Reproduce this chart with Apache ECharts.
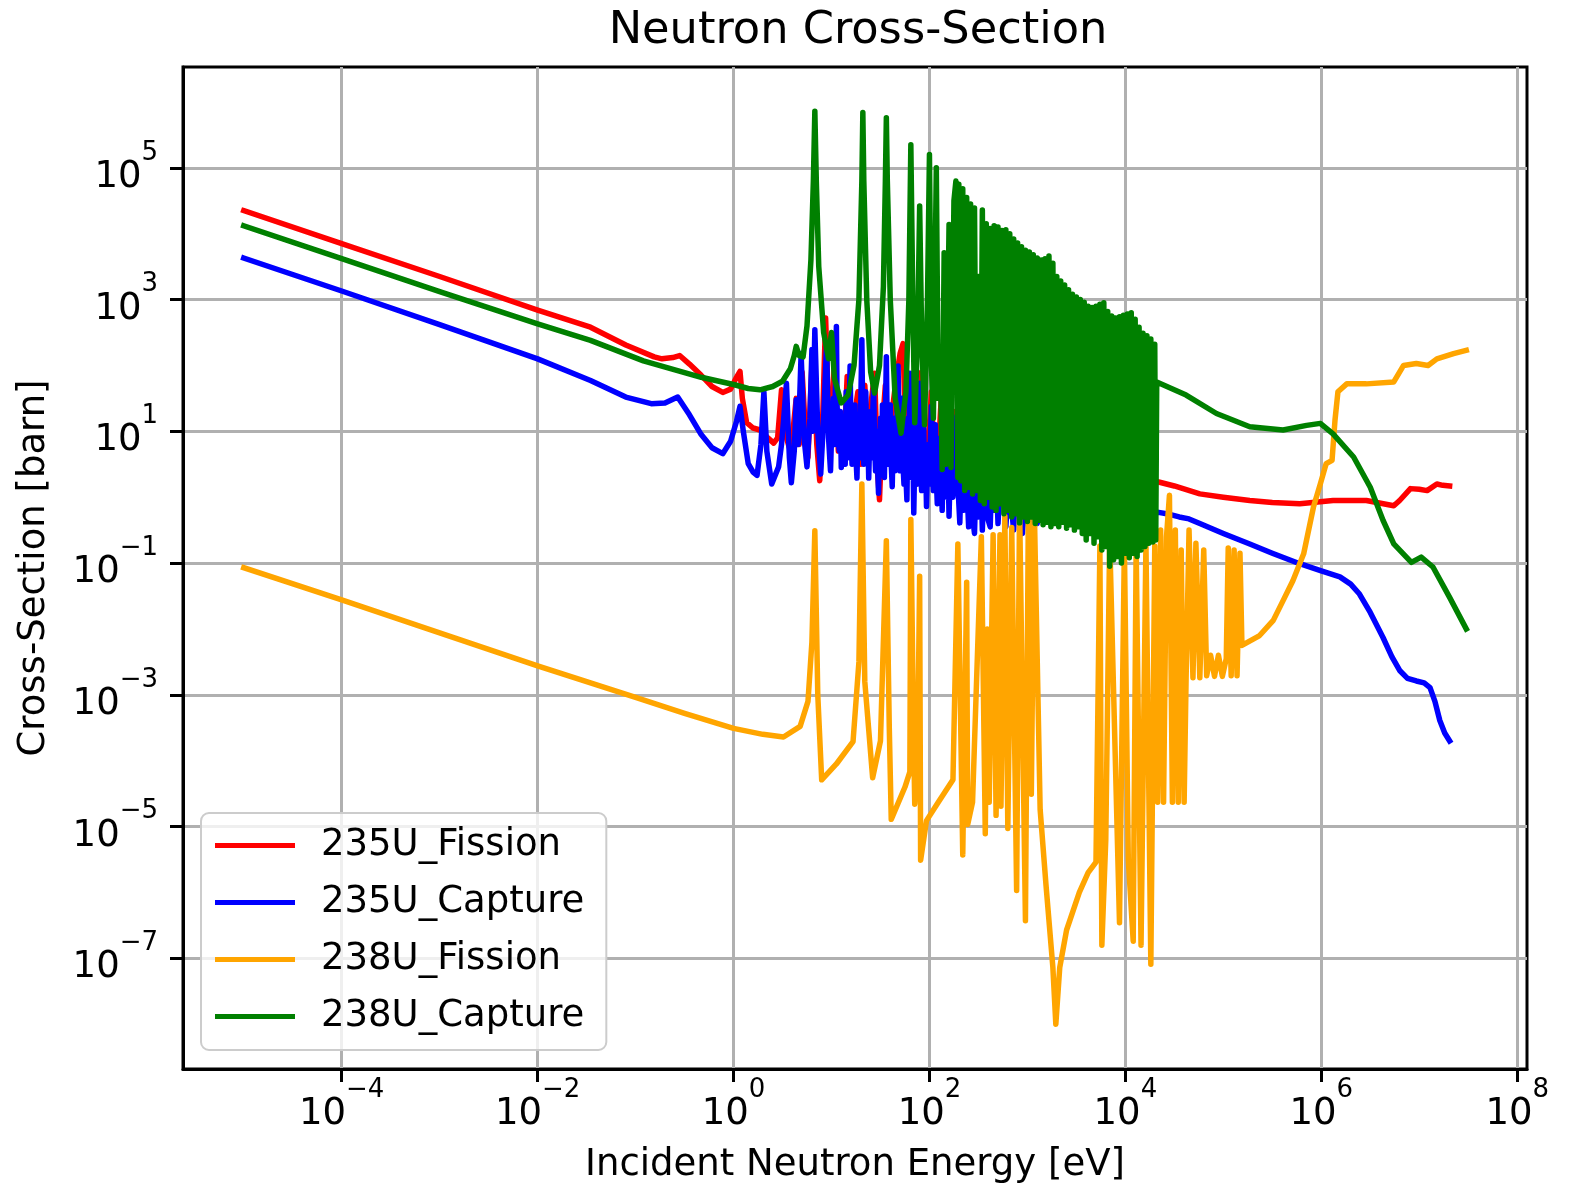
<!DOCTYPE html>
<html><head><meta charset="utf-8">
<script src="https://cdn.jsdelivr.net/npm/echarts@6/dist/echarts.min.js"></script>
<style>html,body{margin:0;padding:0;background:#fff}#c{width:1578px;height:1183px}</style>
</head><body><div id="c"></div>
<script>
// Values are [log10(E / eV), log10(sigma / barn)]
const xTickExponents = [-4, -2, 0, 2, 4, 6, 8];
const yTickExponents = [-7, -5, -3, -1, 1, 3, 5];
const seriesNames = ['235U_Fission', '235U_Capture', '238U_Fission', '238U_Capture'];
const seriesColors = ['#ff0000', '#0000ff', '#ffa500', '#008000'];

const u235Fission = [[-5.0,4.35],[-4.0,3.85],[-3.0,3.35],[-2.0,2.84],[-1.46,2.58],[-1.10,2.31],[-0.81,2.13],[-0.73,2.10],[-0.62,2.12],[-0.55,2.15],[-0.45,2.02],[-0.33,1.85],[-0.22,1.68],[-0.11,1.59],[-0.03,1.64],[0.03,1.82],[0.066,1.91],[0.09,1.50],[0.134,1.13],[0.20,1.05],[0.27,1.02],[0.35,0.90],[0.41,0.82],[0.45,0.90],[0.49,1.63],[0.52,1.00],[0.57,0.75],[0.60,0.90],[0.64,1.50],[0.67,0.80],[0.70,1.90],[0.73,1.10],[0.76,0.60],[0.80,2.00],[0.83,1.60],[0.85,0.80],[0.88,0.25],[0.91,1.20],[0.94,2.72],[0.97,1.30],[1.00,1.00],[1.03,2.10],[1.07,0.70],[1.10,1.20],[1.13,0.80],[1.16,1.83],[1.20,0.60],[1.24,1.30],[1.27,1.60],[1.30,0.50],[1.34,1.70],[1.38,0.60],[1.41,1.50],[1.44,1.88],[1.47,0.40],[1.49,-0.04],[1.52,1.10],[1.55,1.70],[1.58,0.50],[1.62,1.30],[1.66,1.80],[1.70,2.18],[1.73,2.33],[1.76,0.80],[1.78,0.40],[1.82,1.70],[1.85,0.50],[1.87,0.20],[1.92,1.90],[1.95,0.60],[1.97,0.30],[2.02,1.60],[2.05,0.50],[2.07,0.10],[2.12,1.50],[2.16,0.60],[2.20,0.30],[2.25,1.30],[2.30,0.20],[2.40,0.10],[2.45,1.00],[2.50,0.10],[2.60,0.00],[2.65,0.90],[2.70,0.00],[2.80,0.00],[2.85,0.80],[2.90,0.00],[3.00,0.05],[3.10,0.60],[3.20,0.10],[3.40,0.20],[3.60,0.40],[3.80,0.30],[4.00,0.40],[4.20,0.30],[4.34,0.23],[4.50,0.17],[4.76,0.05],[5.00,0.00],[5.27,-0.05],[5.50,-0.08],[5.78,-0.10],[6.12,-0.05],[6.46,-0.05],[6.74,-0.13],[6.80,-0.05],[6.91,0.13],[7.00,0.12],[7.08,0.10],[7.18,0.20],[7.24,0.18],[7.31,0.17]];

const u235Capture = [[-5.0,3.63],[-4.0,3.13],[-3.0,2.62],[-2.0,2.10],[-1.46,1.77],[-1.10,1.52],[-0.84,1.42],[-0.70,1.43],[-0.57,1.52],[-0.45,1.25],[-0.33,0.95],[-0.22,0.75],[-0.11,0.66],[-0.03,0.85],[0.03,1.15],[0.066,1.38],[0.10,1.00],[0.15,0.51],[0.20,0.38],[0.24,0.33],[0.28,0.80],[0.31,1.60],[0.34,0.70],[0.39,0.20],[0.43,0.35],[0.46,0.46],[0.49,0.80],[0.51,1.15],[0.54,1.73],[0.57,0.60],[0.59,0.22],[0.62,0.70],[0.64,1.48],[0.66,0.80],[0.69,2.18],[0.72,0.90],[0.75,0.46],[0.78,1.20],[0.80,2.24],[0.81,1.00],[0.83,2.54],[0.86,1.00],[0.89,0.35],[0.92,1.20],[0.95,2.33],[0.97,0.90],[0.99,0.40],
[1.00,0.90],[1.02,1.50],[1.03,0.80],[1.05,2.59],[1.06,1.00],[1.08,0.70],[1.09,1.30],[1.10,0.45],[1.11,1.10],[1.13,1.20],[1.14,0.50],[1.15,1.60],[1.16,0.90],[1.17,0.60],[1.18,1.30],[1.19,1.99],[1.20,0.90],[1.21,0.50],[1.22,1.20],[1.23,0.70],[1.24,1.40],[1.25,0.60],[1.26,0.29],[1.27,1.00],[1.28,1.20],[1.29,0.60],[1.30,1.50],[1.31,2.39],[1.32,1.00],[1.33,0.50],[1.34,1.30],[1.35,1.60],[1.36,0.70],[1.37,1.10],[1.38,0.29],[1.39,0.90],[1.40,1.30],[1.41,0.60],[1.42,1.20],[1.43,1.70],[1.44,0.80],[1.45,0.40],[1.46,1.00],[1.47,0.50],[1.48,0.06],[1.49,0.80],[1.50,1.20],[1.51,0.40],[1.52,1.40],[1.53,0.70],[1.54,0.30],[1.55,1.20],[1.56,2.13],[1.57,0.90],[1.58,0.50],[1.59,1.00],[1.60,1.40],[1.61,0.50],[1.62,0.16],[1.63,0.90],[1.64,1.20],[1.65,0.40],[1.66,0.60],[1.67,1.30],[1.68,1.99],[1.69,0.80],[1.70,0.40],[1.71,1.00],[1.72,1.50],[1.73,0.50],[1.74,0.20],[1.75,0.90],[1.76,0.30],[1.77,-0.04],[1.78,1.20],[1.79,0.60],[1.80,1.88],[1.81,0.70],[1.82,0.30],[1.83,0.90],[1.84,-0.24],[1.85,0.60],[1.86,1.10],[1.87,0.40],[1.88,0.20],[1.89,0.90],[1.90,1.73],[1.91,0.50],[1.92,0.10],[1.93,0.80],[1.94,1.20],[1.95,0.30],[1.96,0.60],[1.97,-0.14],[1.98,0.50],[1.99,0.80],[2.00,0.20],[2.01,0.90],[2.02,1.38],[2.03,0.40],[2.04,0.10],[2.05,0.70],[2.06,1.10],[2.07,0.30],[2.08,-0.10],[2.09,0.60],[2.10,0.20],[2.11,0.90],[2.12,0.30],[2.13,-0.20],[2.14,0.50],[2.15,0.80],[2.16,1.20],[2.17,0.40],[2.18,0.00],[2.19,0.50],[2.20,-0.29],[2.21,0.30],[2.22,0.80],[2.23,0.10],[2.24,0.00],[2.25,0.60],[2.26,0.90],[2.27,0.40],[2.28,1.23],[2.29,0.30],[2.30,-0.10],
[2.31,-0.39],[2.33,0.70],[2.35,-0.20],[2.37,0.60],[2.40,-0.45],[2.42,0.80],[2.44,-0.30],[2.46,-0.55],[2.48,0.50],[2.50,-0.30],[2.52,0.60],[2.54,-0.50],[2.56,0.40],[2.58,0.70],[2.60,-0.35],[2.62,-0.45],[2.64,0.50],[2.66,-0.20],[2.68,0.40],[2.70,-0.40],[2.72,0.20],[2.75,0.40],[2.78,-0.45],[2.81,0.30],[2.84,-0.20],[2.86,-0.50],[2.88,0.20],[2.90,0.30],[2.93,-0.30],[2.95,-0.55],[2.97,0.10],[2.99,0.22],[3.02,-0.65],[3.04,0.00],[3.06,0.20],[3.08,-0.30],[3.10,-0.40],[3.13,0.10],[3.15,0.20],[3.18,-0.20],[3.21,-0.29],[3.23,0.10],[3.25,0.10],[3.28,-0.30],[3.30,-0.39],[3.35,0.05],[3.40,0.00],[3.45,-0.30],[3.50,-0.35],[3.55,0.00],[3.60,0.00],[3.65,-0.25],[3.70,-0.30],[3.75,-0.05],[3.80,-0.05],[3.85,-0.30],[3.90,-0.30],[3.95,-0.10],[4.00,-0.10],[4.05,-0.30],[4.10,-0.30],[4.15,-0.15],[4.20,-0.15],[4.27,-0.25],[4.34,-0.23],[4.45,-0.26],[4.55,-0.30],[4.65,-0.33],[4.76,-0.40],[5.00,-0.55],[5.27,-0.71],[5.50,-0.85],[5.78,-1.01],[6.00,-1.12],[6.19,-1.21],[6.30,-1.32],[6.39,-1.47],[6.50,-1.75],[6.63,-2.13],[6.72,-2.42],[6.80,-2.63],[6.88,-2.75],[6.97,-2.79],[7.05,-2.82],[7.11,-2.89],[7.16,-3.10],[7.21,-3.39],[7.26,-3.58],[7.31,-3.70]];

const u238Fission = [[-5.0,-1.07],[-4.0,-1.56],[-3.0,-2.06],[-2.0,-2.56],[-1.0,-3.04],[-0.5,-3.28],[0.0,-3.51],[0.3,-3.60],[0.51,-3.64],[0.68,-3.48],[0.76,-3.10],[0.80,-2.20],[0.83,-0.51],[0.86,-3.00],[0.90,-4.29],[1.05,-4.05],[1.22,-3.71],[1.28,-2.50],[1.31,0.20],[1.34,-2.80],[1.42,-4.26],[1.50,-3.70],[1.56,-0.66],[1.59,-3.50],[1.61,-4.89],[1.75,-4.40],[1.80,-4.17],[1.81,-0.34],[1.84,-3.80],[1.85,-4.66],[1.88,-3.80],[1.90,-1.20],[1.91,-5.51],[1.97,-4.91],[2.09,-4.63],[2.24,-4.29],[2.29,-0.71],[2.34,-5.43],[2.38,-1.29],[2.39,-4.97],[2.44,-4.63],[2.53,-0.60],[2.57,-5.11],[2.59,-2.00],[2.61,-4.63],[2.65,-0.57],[2.68,-4.83],[2.72,-0.57],[2.73,-4.69],[2.77,-0.29],[2.80,-5.03],[2.84,-0.46],[2.89,-5.97],[2.92,-0.11],[2.98,-6.43],[3.01,-0.17],[3.04,-4.51],[3.07,-0.14],[3.13,-4.74],[3.19,-5.89],[3.26,-7.14],[3.29,-8.00],[3.33,-7.14],[3.40,-6.57],[3.53,-6.00],[3.62,-5.70],[3.70,-5.54],[3.74,-0.74],[3.76,-6.80],[3.80,-5.20],[3.84,-0.63],[3.94,-6.46],[3.99,-0.74],[4.03,-5.50],[4.08,-6.74],[4.11,-0.74],[4.16,-6.80],[4.21,-0.69],[4.26,-7.09],[4.30,-0.74],[4.33,-4.63],[4.36,-0.50],[4.39,-4.63],[4.42,-0.60],[4.45,0.03],[4.48,-4.63],[4.51,-0.50],[4.54,-4.63],[4.57,-0.80],[4.60,-4.63],[4.62,-2.74],[4.65,-0.50],[4.69,-2.74],[4.72,-0.70],[4.76,-2.74],[4.80,-0.80],[4.83,-2.71],[4.87,-2.40],[4.91,-2.72],[4.95,-2.40],[4.99,-2.72],[5.03,-2.45],[5.05,-0.77],[5.08,-2.71],[5.11,-0.80],[5.14,-2.71],[5.17,-0.85],[5.19,-2.25],[5.37,-2.10],[5.51,-1.87],[5.61,-1.57],[5.71,-1.27],[5.82,-0.86],[5.92,-0.15],[5.99,0.20],[6.05,0.51],[6.11,0.56],[6.14,1.17],[6.17,1.60],[6.26,1.72],[6.46,1.72],[6.74,1.75],[6.84,2.00],[6.97,2.03],[7.09,2.00],[7.18,2.10],[7.35,2.18],[7.48,2.23]];

const u238Capture = [[-5.0,4.12],[-4.0,3.62],[-3.0,3.12],[-2.0,2.63],[-1.46,2.38],[-0.92,2.07],[-0.33,1.82],[0.0,1.71],[0.15,1.65],[0.27,1.63],[0.40,1.68],[0.50,1.76],[0.58,1.95],[0.62,2.15],[0.64,2.29],[0.67,2.15],[0.71,2.13],[0.75,2.60],[0.79,3.60],[0.815,4.80],[0.83,5.86],[0.845,4.80],[0.87,3.50],[0.92,2.50],[0.97,2.10],[1.00,2.50],[1.03,1.80],[1.10,1.43],[1.17,1.55],[1.23,2.00],[1.28,3.00],[1.31,4.80],[1.32,5.84],[1.33,4.80],[1.36,3.00],[1.40,1.90],[1.44,1.58],[1.49,2.00],[1.53,3.20],[1.55,4.80],[1.56,5.76],[1.57,4.80],[1.60,3.00],[1.65,1.50],[1.71,0.97],[1.76,1.60],[1.79,3.00],[1.81,5.35],[1.83,3.00],[1.85,1.13],[1.88,2.50],[1.90,4.42],[1.92,2.50],[1.95,1.10],[1.98,3.00],[2.00,5.20],[2.02,2.00],[2.04,1.20],[2.07,5.00],[2.09,1.50],[2.11,2.22],[2.13,0.42],[2.15,3.71],[2.17,0.50],[2.20,4.14],[2.22,0.45],[2.25,4.50],[2.27,4.80],[2.29,0.30],
[2.30,4.75],[2.32,0.25],[2.34,4.68],[2.36,0.10],[2.38,4.55],[2.40,0.15],[2.42,4.45],[2.44,0.05],[2.46,4.39],[2.48,0.10],[2.50,3.35],[2.52,-0.05],[2.54,4.36],[2.56,-0.10],[2.58,4.15],[2.60,0.00],[2.62,4.08],[2.64,-0.15],[2.66,4.12],[2.68,-0.20],[2.70,4.10],[2.72,-0.10],[2.74,4.05],[2.76,-0.25],[2.78,4.06],[2.80,-0.20],[2.82,4.00],[2.84,-0.30],[2.86,3.92],[2.88,-0.25],[2.90,3.86],[2.92,-0.39],[2.94,3.80],[2.96,-0.30],[2.98,3.75],[3.00,-0.37],[3.02,3.72],[3.04,-0.30],[3.06,3.68],[3.08,-0.40],[3.10,3.63],[3.12,-0.35],[3.14,3.60],[3.16,-0.42],[3.18,3.62],[3.20,-0.38],[3.22,3.66],[3.24,-0.45],[3.26,3.55],[3.28,-0.40],[3.30,3.35],[3.32,-0.45],[3.34,3.28],[3.36,-0.38],[3.38,3.22],[3.40,-0.47],[3.42,3.15],[3.44,-0.42],[3.46,3.08],[3.48,-0.50],[3.50,3.04],[3.52,-0.45],[3.54,3.00],[3.56,-0.55],[3.58,2.96],[3.60,-0.65],[3.62,2.90],[3.64,-0.55],[3.66,2.88],[3.68,-0.70],[3.70,2.90],[3.72,-0.60],[3.74,2.93],[3.76,-0.80],[3.78,2.95],[3.80,-0.75],[3.82,2.82],[3.84,-1.05],[3.86,2.75],[3.88,-0.95],[3.90,2.72],[3.92,-0.90],[3.94,2.74],[3.96,-1.00],[3.98,2.76],[4.00,-0.85],[4.02,2.78],[4.04,-0.92],[4.06,2.80],[4.08,-0.85],[4.10,2.70],[4.12,-0.90],[4.14,2.58],[4.16,-0.80],[4.18,2.49],[4.20,-0.75],[4.22,2.45],[4.24,-0.70],[4.26,2.40],[4.28,-0.68],[4.30,2.32],[4.31,-0.65],
[4.32,1.75],[4.62,1.55],[4.93,1.27],[5.27,1.07],[5.61,1.02],[5.85,1.09],[5.99,1.12],[6.12,0.96],[6.33,0.61],[6.50,0.15],[6.63,-0.35],[6.74,-0.71],[6.92,-0.99],[7.02,-0.91],[7.14,-1.06],[7.31,-1.52],[7.48,-2.00]];

const seriesData = [u235Fission, u235Capture, u238Fission, u238Capture];

const FONT = 'DejaVu Sans';
function powLabel(v) {
  const e = Math.round(v);
  const s = e < 0 ? '\u2212' + (-e) : String(e);
  return '{b|10}{s|' + s + '}';
}
const richLabel = {
  b: { fontFamily: FONT, fontSize: 37, lineHeight: 56, verticalAlign: 'bottom', color: '#000' },
  s: { fontFamily: FONT, fontSize: 26, lineHeight: 26, verticalAlign: 'top', color: '#000' }
};

const chart = echarts.init(document.getElementById('c'), null, { renderer: 'canvas' });
chart.setOption({
  animation: false,
  backgroundColor: '#ffffff',
  title: {
    text: 'Neutron Cross-Section',
    left: 853, top: 4, textAlign: 'center',
    textStyle: { fontFamily: FONT, fontSize: 44.7, fontWeight: 'normal', color: '#000' }
  },
  grid: { left: 183, top: 67, width: 1344, height: 1002, show: true, borderColor: '#000', borderWidth: 3, backgroundColor: 'transparent', containLabel: false, outerBoundsMode: 'none' },
  legend: {
    orient: 'vertical', left: 201, top: 813,
    padding: [14, 22, 15, 14], itemGap: 20,
    icon: 'rect', itemWidth: 80, itemHeight: 5,
    backgroundColor: 'rgba(255,255,255,0.8)', borderColor: '#cccccc', borderWidth: 2, borderRadius: 8,
    textStyle: { fontFamily: FONT, fontSize: 37, lineHeight: 37, color: '#000', padding: [0, 0, 0, 21] },
    data: seriesNames
  },
  xAxis: {
    type: 'value', min: -5.62, max: 8.10,
    name: 'Incident Neutron Energy [eV]', nameLocation: 'middle', nameGap: 78,
    nameTextStyle: { fontFamily: FONT, fontSize: 37, color: '#000' },
    axisLine: { show: true, onZero: false, lineStyle: { color: '#000', width: 3 } },
    axisTick: { show: true, length: 13, customValues: xTickExponents, lineStyle: { color: '#000', width: 3 } },
    axisLabel: { customValues: xTickExponents, margin: 8, formatter: powLabel, rich: richLabel },
    splitLine: { show: true, lineStyle: { color: '#b0b0b0', width: 3 } }
  },
  yAxis: {
    type: 'value', min: -8.68, max: 6.53,
    name: 'Cross-Section [barn]', nameLocation: 'middle', nameGap: 130, nameRotate: 90,
    nameTextStyle: { fontFamily: FONT, fontSize: 37, color: '#000' },
    axisLine: { show: true, onZero: false, lineStyle: { color: '#000', width: 3 } },
    axisTick: { show: true, length: 13, customValues: yTickExponents, lineStyle: { color: '#000', width: 3 } },
    axisLabel: { customValues: yTickExponents, margin: 25, formatter: powLabel, rich: richLabel },
    splitLine: { show: true, lineStyle: { color: '#b0b0b0', width: 3 } }
  },
  series: seriesNames.map((name, i) => ({
    name: name, type: 'line', showSymbol: false, symbol: 'none', silent: true,
    color: seriesColors[i],
    lineStyle: { color: seriesColors[i], width: 5.5, join: 'round', cap: 'square' },
    data: seriesData[i].map(p => [p[0], p[1]])
  }))
});
</script>
</body></html>
